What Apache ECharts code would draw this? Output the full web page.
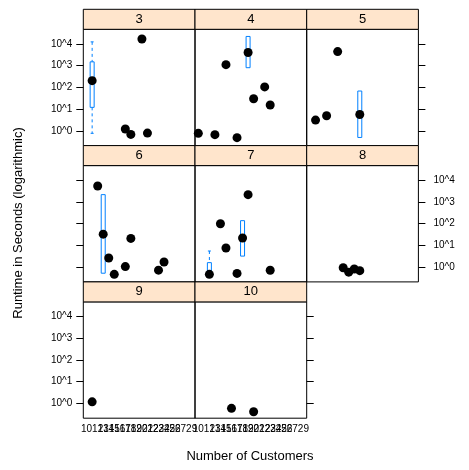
<!DOCTYPE html>
<html>
<head>
<meta charset="utf-8">
<script src="https://cdn.jsdelivr.net/npm/echarts@6/dist/echarts.min.js"></script>
<style>html,body{margin:0;padding:0;background:#fff}#c{width:469px;height:470px}</style>
</head>
<body>
<div id="c"></div>
<script>
// ---- data ----
const categories = ['10','11','12','13','14','15','16','17','18','19','20','21','22','23','24','25','26','27','28','29'];
const panelNames = ['3','4','5','6','7','8','9','10'];
const yTickExponents = [0, 1, 2, 3, 4];
// medians (runtime in seconds) per panel: [customers, seconds]
const medians3 = [['11',204],['17',1.2],['18',0.68],['20',17000],['21',0.78]];
const medians4 = [['10',0.76],['13',0.66],['15',1120],['17',0.48],['19',4070],['20',30],['22',105],['23',15.5]];
const medians5 = [['11',3.1],['13',4.9],['15',4470],['19',5.6]];
const medians6 = [['12',5500],['13',33],['14',2.6],['15',0.46],['17',1.05],['18',21],['23',0.72],['24',1.7]];
const medians7 = [['12',0.46],['14',100],['15',7.6],['17',0.51],['18',22],['19',2190],['23',0.71]];
const medians8 = [['16',0.93],['17',0.58],['18',0.81],['19',0.68]];
const medians9 = [['11',1.17]];
const medians10 = [['16',0.59],['20',0.41]];
// boxes: [customers, min, q1, median, q3, max] in seconds
const boxes3 = [['11',0.76,12,204,1510,12600]];
const boxes4 = [['19',810,810,4070,22400,22400]];
const boxes5 = [['19',0.49,0.49,5.6,68,68]];
const boxes6 = [['13',0.52,0.52,33,2190,2190]];
const boxes7 = [['12',0.42,0.42,0.46,1.6,5.5],['18',3.2,3.2,22,138,138]];
const boxes8 = [];
const boxes9 = [];
const boxes10 = [];

const allMedians = [medians3,medians4,medians5,medians6,medians7,medians8,medians9,medians10];
const allBoxes = [boxes3,boxes4,boxes5,boxes6,boxes7,boxes8,boxes9,boxes10];

// ---- layout ----
const FONT = 'Liberation Sans, Arial, sans-serif';
const colLeft = [83.3, 195, 306.7];
const panelW = 111.7;
const stripH = 20;
const panelH = 116.3;
const rowTop0 = 9.3;
const rowStep = stripH + panelH;
const YMIN = -0.685, YMAX = 4.68;
const boxColor = '#0080ff';

const xIndex = c => categories.indexOf(c) + 1;
const lg = v => Math.log10(v);

const grids = [], xAxes = [], yAxes = [], series = [], graphics = [];
panelNames.forEach((name, i) => {
  const row = Math.floor(i / 3), col = i % 3;
  const top = rowTop0 + row * rowStep + stripH;
  const left = colLeft[col];
  grids.push({left: left, top: top, width: panelW, height: panelH, show: true,
    borderColor: '#000', borderWidth: 1, backgroundColor: 'transparent', containLabel: false});
  const isBottom = row === 2;
  xAxes.push({type: 'value', gridIndex: i, min: 0.4, max: 20.6,
    axisLine: {show: false}, axisTick: {show: false}, splitLine: {show: false},
    axisLabel: {show: isBottom, hideOverlap: false, showMinLabel: true, showMaxLabel: true,
      customValues: categories.map((c, k) => k + 1),
      formatter: v => categories[Math.round(v) - 1] || '', fontSize: 10, color: '#000',
      fontFamily: FONT, margin: 6}});
  const leftShow = col === 0;
  yAxes.push({type: 'value', gridIndex: i, min: YMIN, max: YMAX, position: 'left',
    axisLine: {show: false}, splitLine: {show: false},
    axisTick: {show: leftShow, inside: false, length: 7, customValues: yTickExponents, lineStyle: {color: '#000'}},
    axisLabel: {show: leftShow && row !== 1, hideOverlap: false, customValues: yTickExponents, formatter: v => '10^' + v,
      fontSize: 10, color: '#000', fontFamily: FONT, margin: 11}});
  const rightMost = (row < 2 && col === 2) || (row === 2 && col === 1);
  if (rightMost) {
    yAxes.push({type: 'value', gridIndex: i, min: YMIN, max: YMAX, position: 'right',
      axisLine: {show: false}, splitLine: {show: false},
      axisTick: {show: true, inside: false, length: 7, customValues: yTickExponents, lineStyle: {color: '#000'}},
      axisLabel: {show: row === 1, hideOverlap: false, customValues: yTickExponents, formatter: v => '10^' + v,
        fontSize: 10, color: '#000', fontFamily: FONT, margin: 15}});
  }
  const yIdx = yAxes.length - (rightMost ? 2 : 1);
  // boxes
  const boxData = allBoxes[i].map(b => [xIndex(b[0]), lg(b[1]), lg(b[2]), lg(b[3]), lg(b[4]), lg(b[5])]);
  if (boxData.length) {
    series.push({type: 'custom', xAxisIndex: i, yAxisIndex: yIdx, data: boxData, z: 2,
      renderItem: (params, api) => {
        const x = api.value(0);
        const pMin = api.coord([x, api.value(1)]);
        const pQ1 = api.coord([x, api.value(2)]);
        const pQ3 = api.coord([x, api.value(4)]);
        const pMax = api.coord([x, api.value(5)]);
        const bw = 4, cw = 3;
        const children = [];
        const ds = {stroke: boxColor, lineWidth: 1, lineDash: [3, 3]};
        if (Math.abs(pMax[1] - pQ3[1]) > 0.5) {
          children.push({type: 'line', shape: {x1: pMax[0], y1: pMax[1], x2: pQ3[0], y2: pQ3[1]}, style: ds});
          children.push({type: 'line', shape: {x1: pMax[0] - cw/2, y1: pMax[1], x2: pMax[0] + cw/2, y2: pMax[1]}, style: {stroke: boxColor, lineWidth: 1}});
        }
        if (Math.abs(pMin[1] - pQ1[1]) > 0.5) {
          children.push({type: 'line', shape: {x1: pQ1[0], y1: pQ1[1], x2: pMin[0], y2: pMin[1]}, style: ds});
          children.push({type: 'line', shape: {x1: pMin[0] - cw/2, y1: pMin[1], x2: pMin[0] + cw/2, y2: pMin[1]}, style: {stroke: boxColor, lineWidth: 1}});
        }
        children.push({type: 'rect', shape: {x: pQ3[0] - bw/2, y: pQ3[1], width: bw, height: pQ1[1] - pQ3[1]},
          style: {stroke: boxColor, fill: 'rgba(0,0,0,0)', lineWidth: 1}});
        return {type: 'group', children: children};
      }});
  }
  series.push({type: 'scatter', xAxisIndex: i, yAxisIndex: yIdx, z: 3, symbolSize: 9,
    itemStyle: {color: '#000', opacity: 1}, silent: true,
    data: allMedians[i].map(p => [xIndex(p[0]), lg(p[1])])});
  // strip
  graphics.push({type: 'rect', shape: {x: left, y: top - stripH, width: panelW, height: stripH},
    style: {fill: '#ffe5cc', stroke: '#000', lineWidth: 1}, z: 1});
  graphics.push({type: 'text', x: left + panelW / 2, y: top - stripH / 2,
    style: {text: name, fill: '#000', font: '13px ' + FONT, align: 'center', verticalAlign: 'middle'}, z: 2});
});
graphics.push({type: 'text', x: 18, y: 223, rotation: Math.PI / 2,
  style: {text: 'Runtime in Seconds (logarithmic)', fill: '#000', font: '13px ' + FONT, align: 'center', verticalAlign: 'middle'}});
graphics.push({type: 'text', x: 250, y: 456,
  style: {text: 'Number of Customers', fill: '#000', font: '13px ' + FONT, align: 'center', verticalAlign: 'middle'}});

const chart = echarts.init(document.getElementById('c'), null, {renderer: 'canvas'});
chart.setOption({animation: false, backgroundColor: '#fff', grid: grids, xAxis: xAxes, yAxis: yAxes,
  series: series, graphic: graphics});
</script>
</body>
</html>
